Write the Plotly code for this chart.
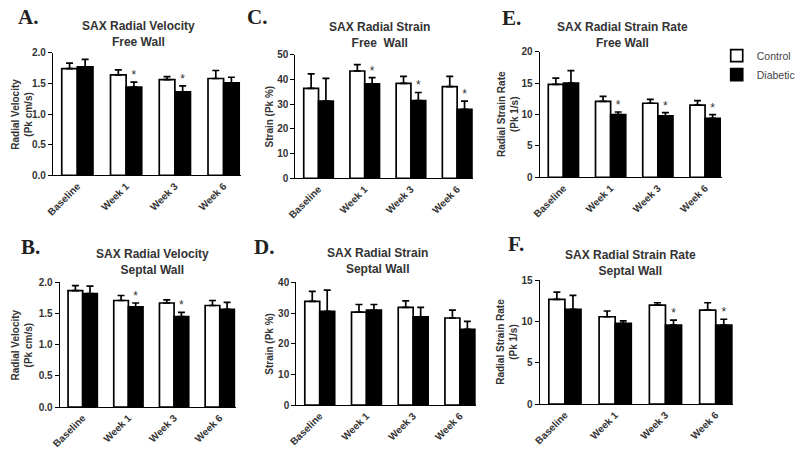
import plotly.graph_objects as go

categories = ["Baseline", "Week 1", "Week 3", "Week 6"]
series_names = ["Control", "Diabetic"]

# A. SAX Radial Velocity, Free Wall
A_ctrl = [1.74, 1.64, 1.56, 1.58]
A_ctrl_err = [0.09, 0.08, 0.05, 0.13]
A_diab = [1.77, 1.44, 1.36, 1.51]
A_diab_err = [0.12, 0.08, 0.10, 0.09]
A_star = [False, True, True, False]

# C. SAX Radial Strain, Free Wall
C_ctrl = [36.4, 43.4, 38.4, 37.1]
C_ctrl_err = [5.8, 2.6, 2.8, 4.1]
C_diab = [31.2, 38.2, 31.4, 27.9]
C_diab_err = [9.2, 2.5, 3.3, 3.3]
C_star = [False, True, True, True]

# E. SAX Radial Strain Rate, Free Wall
E_ctrl = [14.8, 12.1, 11.8, 11.5]
E_ctrl_err = [1.0, 0.8, 0.6, 0.7]
E_diab = [15.0, 10.0, 9.8, 9.4]
E_diab_err = [2.0, 0.4, 0.5, 0.6]
E_star = [False, True, True, True]

# B. SAX Radial Velocity, Septal Wall
B_ctrl = [1.87, 1.71, 1.67, 1.63]
B_ctrl_err = [0.08, 0.08, 0.05, 0.08]
B_diab = [1.82, 1.61, 1.45, 1.57]
B_diab_err = [0.12, 0.06, 0.07, 0.11]
B_star = [False, True, True, False]

# D. SAX Radial Strain, Septal Wall
D_ctrl = [33.8, 30.3, 31.9, 28.4]
D_ctrl_err = [3.3, 2.5, 2.1, 2.6]
D_diab = [30.6, 31.0, 28.8, 24.7]
D_diab_err = [6.9, 1.8, 3.1, 2.6]
D_star = [False, False, False, False]

# F. SAX Radial Strain Rate, Septal Wall
F_ctrl = [12.7, 10.6, 12.0, 11.4]
F_ctrl_err = [0.9, 0.7, 0.3, 0.9]
F_diab = [11.5, 9.8, 9.6, 9.6]
F_diab_err = [1.7, 0.3, 0.6, 0.7]
F_star = [False, False, True, True]

titles = ["SAX Radial Velocity<br>Free Wall", "SAX Radial Strain<br>Free  Wall",
          "SAX Radial Strain Rate<br>Free Wall", "SAX Radial Velocity<br>Septal Wall",
          "SAX Radial Strain<br>Septal Wall", "SAX Radial Strain Rate<br>Septal Wall"]
ytitles = ["Radial Velocity<br>(Pk cm/s)", "Strain (Pk %)", "Radial Strain Rate<br>(Pk 1/s)",
           "Radial Velocity<br>(Pk cm/s)", "Strain (Pk %)", "Radial Strain Rate<br>(Pk 1/s)"]
letters = ["A.", "C.", "E.", "B.", "D.", "F."]
ymax = [2.0, 50, 20, 2.0, 40, 15]
ydtick = [0.5, 10, 5, 0.5, 10, 5]
yfmt = [".1f", "d", "d", ".1f", "d", "d"]

panels = [
    (A_ctrl, A_ctrl_err, A_diab, A_diab_err, A_star),
    (C_ctrl, C_ctrl_err, C_diab, C_diab_err, C_star),
    (E_ctrl, E_ctrl_err, E_diab, E_diab_err, E_star),
    (B_ctrl, B_ctrl_err, B_diab, B_diab_err, B_star),
    (D_ctrl, D_ctrl_err, D_diab, D_diab_err, D_star),
    (F_ctrl, F_ctrl_err, F_diab, F_diab_err, F_star),
]

W, H = 800, 451
# plot-area pixel boxes (x0, x1, ytop, ybottom)
boxes = [(45, 237, 48, 174), (293, 475, 50, 177), (543, 729, 47, 176),
         (52, 232, 284, 412), (294, 478, 284, 410), (543, 741, 282, 409)]
title_pos = [(132, 29), (379, 30), (628, 30), (147, 263), (377, 262), (636, 264)]
ytitle_x = [13, 266, 510, 13, 267, 510]
letter_pos = [(19, 11), (254, 11), (514, 12), (22, 248), (261, 248), (519, 245)]

bw = 0.32
TXT = "#333333"
fig = go.Figure()
layout = dict(width=W, height=H, margin=dict(l=0, r=0, t=0, b=0),
              paper_bgcolor="white", plot_bgcolor="white", barmode="overlay",
              font=dict(family="Liberation Sans, Arial, sans-serif", color=TXT),
              showlegend=True,
              legend=dict(x=724 / W, y=1 - 36 / H, xanchor="left", yanchor="top",
                          font=dict(size=10.5, color="#444444"), tracegroupgap=0,
                          itemwidth=30, bgcolor="rgba(0,0,0,0)"))
annotations = []
idx = list(range(len(categories)))

for k, (c, ce, d, de, st) in enumerate(panels):
    ax = "" if k == 0 else str(k + 1)
    xa, ya = "x" + ax, "y" + ax
    x0, x1, yt, yb = boxes[k]
    fig.add_trace(go.Bar(x=[i - bw / 2 for i in idx], y=c, width=bw, name=series_names[0],
                         marker=dict(color="white", line=dict(color="black", width=1.7)),
                         error_y=dict(type="data", symmetric=False, array=ce, arrayminus=[0] * 4,
                                      color="black", thickness=1.7, width=3.5),
                         xaxis=xa, yaxis=ya, showlegend=(k == 0), legendgroup="c"))
    fig.add_trace(go.Bar(x=[i + bw / 2 for i in idx], y=d, width=bw, name=series_names[1],
                         marker=dict(color="black", line=dict(color="black", width=1.7)),
                         error_y=dict(type="data", symmetric=False, array=de, arrayminus=[0] * 4,
                                      color="black", thickness=1.7, width=3.5),
                         xaxis=xa, yaxis=ya, showlegend=(k == 0), legendgroup="d"))
    sx = [i + bw / 2 for i in idx if st[i]]
    sy = [d[i] + de[i] for i in idx if st[i]]
    if sx:
        fig.add_trace(go.Scatter(x=sx, y=sy, mode="text", text=["*"] * len(sx),
                                 textposition="top center", textfont=dict(size=12, color=TXT),
                                 cliponaxis=False, showlegend=False, hoverinfo="skip",
                                 xaxis=xa, yaxis=ya))
    layout["xaxis" + ax] = dict(domain=[x0 / W, x1 / W], anchor=ya, range=[-0.5, 3.35],
                                tickvals=idx, ticktext=categories, tickangle=-45,
                                showline=True, linecolor="black", linewidth=1.3,
                                ticks="", showgrid=False, zeroline=False,
                                tickfont=dict(size=10, color=TXT, weight="bold"))
    layout["yaxis" + ax] = dict(domain=[1 - yb / H, 1 - yt / H], anchor=xa, range=[0, ymax[k]],
                                dtick=ydtick[k], tickformat=yfmt[k],
                                showline=True, linecolor="black", linewidth=1.3,
                                ticks="outside", ticklen=4, tickcolor="black", tickwidth=1.2,
                                showgrid=False, zeroline=False,
                                tickfont=dict(size=10, color=TXT, weight="bold"))
    tx, ty = title_pos[k]
    annotations.append(dict(x=tx / W, y=1 - ty / H, xref="paper", yref="paper",
                            text="<b>" + titles[k] + "</b>", showarrow=False,
                            font=dict(size=12, color=TXT), xanchor="center", yanchor="middle"))
    annotations.append(dict(x=ytitle_x[k] / W, y=1 - (yt + yb) / 2 / H, xref="paper", yref="paper",
                            text="<b>" + ytitles[k] + "</b>", showarrow=False, textangle=-90,
                            font=dict(size=10, color=TXT), xanchor="center", yanchor="middle"))
    lx, ly = letter_pos[k]
    annotations.append(dict(x=lx / W, y=1 - ly / H, xref="paper", yref="paper",
                            text="<b>" + letters[k] + "</b>", showarrow=False,
                            font=dict(size=21, color="#222222", family="Liberation Serif, Times New Roman, serif"),
                            xanchor="center", yanchor="middle"))

layout["annotations"] = annotations
fig.update_layout(**layout)
fig.write_html("out.html", config={"displayModeBar": False},
               post_script="document.body.style.margin='0px';")
